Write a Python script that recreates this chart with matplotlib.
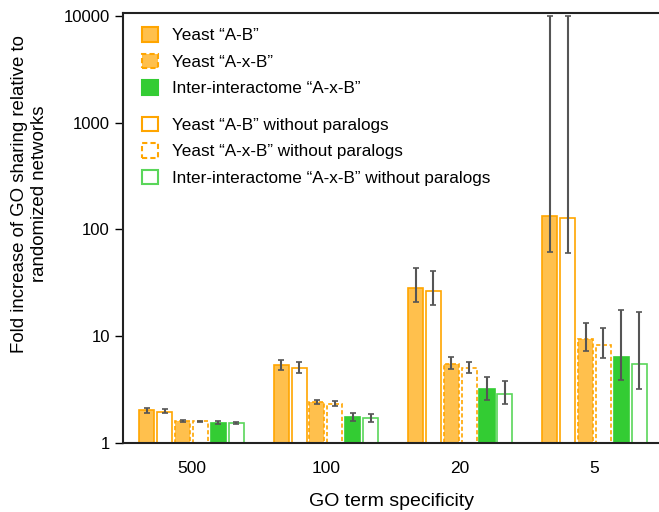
import matplotlib.pyplot as plt
import matplotlib.patches as mpatches
import numpy as np

plt.rcParams['font.family'] = ['Liberation Sans', 'DejaVu Sans']

GROUPS = ["500", "100", "20", "5"]

SERIES = [
    "Yeast \u201cA-B\u201d",
    "Yeast \u201cA-B\u201d without paralogs",
    "Yeast \u201cA-x-B\u201d",
    "Yeast \u201cA-x-B\u201d without paralogs",
    "Inter-interactome \u201cA-x-B\u201d",
    "Inter-interactome \u201cA-x-B\u201d without paralogs",
]

# bar heights per series, one value per GO group
yeast_ab = [2.02, 5.35, 28.1, 135]
yeast_ab_nopar = [1.97, 5.07, 26.7, 127]
yeast_axb = [1.61, 2.42, 5.53, 9.5]
yeast_axb_nopar = [1.59, 2.33, 5.07, 8.2]
inter_axb = [1.55, 1.76, 3.18, 6.4]
inter_axb_nopar = [1.54, 1.71, 2.9, 5.45]

# error bar ends (low, high)
yeast_ab_lo = [1.93, 4.8, 20.8, 62]
yeast_ab_hi = [2.11, 6.0, 43.6, 10000]
yeast_ab_nopar_lo = [1.89, 4.53, 19.6, 60]
yeast_ab_nopar_hi = [2.06, 5.7, 41.1, 10000]
yeast_axb_lo = [1.58, 2.31, 4.9, 7.3]
yeast_axb_hi = [1.64, 2.53, 6.35, 13.4]
yeast_axb_nopar_lo = [1.56, 2.2, 4.52, 6.3]
yeast_axb_nopar_hi = [1.62, 2.46, 5.73, 11.9]
inter_axb_lo = [1.51, 1.62, 2.51, 3.87]
inter_axb_hi = [1.59, 1.9, 4.18, 17.7]
inter_axb_nopar_lo = [1.5, 1.58, 2.3, 3.18]
inter_axb_nopar_hi = [1.58, 1.86, 3.81, 17.0]

ORANGE_FILL = "#ffc04d"
ORANGE_EDGE = "#ffa500"
GREEN_FILL = "#33cc33"
GREEN_EDGE = "#5ad65a"
ERR_COLOR = "#555555"


def main():
    heights = [yeast_ab, yeast_ab_nopar, yeast_axb, yeast_axb_nopar, inter_axb, inter_axb_nopar]
    lows = [yeast_ab_lo, yeast_ab_nopar_lo, yeast_axb_lo, yeast_axb_nopar_lo, inter_axb_lo, inter_axb_nopar_lo]
    highs = [yeast_ab_hi, yeast_ab_nopar_hi, yeast_axb_hi, yeast_axb_nopar_hi, inter_axb_hi, inter_axb_nopar_hi]
    styles = [
        dict(facecolor=ORANGE_FILL, edgecolor=ORANGE_EDGE, linestyle="-"),
        dict(facecolor="white", edgecolor=ORANGE_EDGE, linestyle="-"),
        dict(facecolor=ORANGE_FILL, edgecolor=ORANGE_EDGE, linestyle=(0, (2.5, 1.5))),
        dict(facecolor="white", edgecolor=ORANGE_EDGE, linestyle=(0, (2.5, 1.5))),
        dict(facecolor=GREEN_FILL, edgecolor=GREEN_FILL, linestyle="-"),
        dict(facecolor="white", edgecolor=GREEN_EDGE, linestyle="-"),
    ]

    fig = plt.figure(figsize=(6.59, 5.12), dpi=100)
    ax = fig.add_axes([0.1867, 0.1348, 0.8133, 0.8398])
    ax.set_yscale("log")

    x = np.arange(len(GROUPS))
    step = 0.133
    width = 0.112
    handles = {}
    for i in range(len(SERIES)):
        xs = x + (i - 2.5) * step
        h = np.array(heights[i])
        lo = h - np.array(lows[i])
        hi = np.array(highs[i]) - h
        ax.bar(xs, h, width=width, linewidth=1.2, **styles[i])
        ax.errorbar(xs, h, yerr=[lo, hi], fmt="none", ecolor=ERR_COLOR,
                    elinewidth=1.5, capsize=2, capthick=1.2)
        handles[i] = mpatches.Patch(label=SERIES[i], linewidth=1.5, **styles[i])

    ax.set_ylim(1, 10670)
    ax.set_xlim(-0.51, 3.48)
    ax.set_yticks([1, 10, 100, 1000, 10000])
    ax.set_yticklabels(["1", "10", "100", "1000", "10000"])
    ax.yaxis.set_minor_locator(plt.NullLocator())
    ax.set_xticks(x)
    ax.set_xticklabels(GROUPS)
    ax.tick_params(axis="x", length=0, pad=13, labelsize=12.5)
    ax.tick_params(axis="y", length=6, width=1, labelsize=12)
    ax.spines["right"].set_visible(False)
    for s in ["left", "top", "bottom"]:
        ax.spines[s].set_linewidth(1.5)
        ax.spines[s].set_color("#222222")

    ax.set_xlabel("GO term specificity", fontsize=14, labelpad=12.5)
    ax.set_ylabel("Fold increase of GO sharing relative to\nrandomized networks", fontsize=13.4)
    ax.yaxis.set_label_coords(-0.14, 0.579)

    leg_kw = dict(loc="upper left", frameon=False, fontsize=12.3, handlelength=0.95,
                  handleheight=0.95, handletextpad=0.85, labelspacing=0.6, borderaxespad=0.0)
    leg1 = ax.legend(handles=[handles[0], handles[2], handles[4]],
                     bbox_to_anchor=(0.022, 0.983), **leg_kw)
    ax.add_artist(leg1)
    ax.legend(handles=[handles[1], handles[3], handles[5]],
              bbox_to_anchor=(0.022, 0.775), **leg_kw)

    fig.savefig("out.png", dpi=100)


if __name__ == '__main__':
    main()
